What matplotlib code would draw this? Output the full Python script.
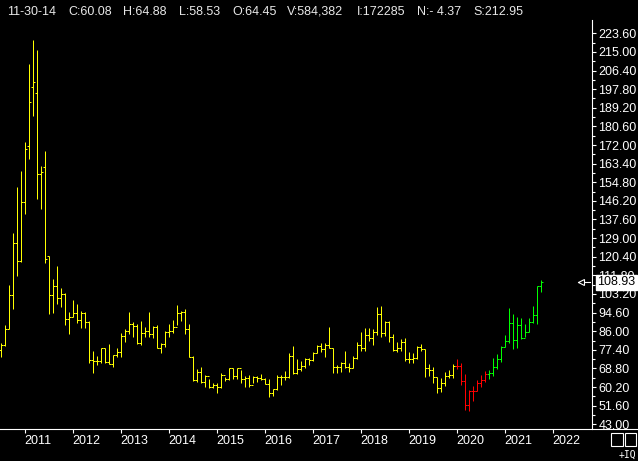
import numpy as np
import matplotlib
matplotlib.use("Agg")
import matplotlib.pyplot as plt
from matplotlib.lines import Line2D
from matplotlib.patches import Rectangle
from matplotlib.ticker import FixedLocator, FuncFormatter

# 月线 OHLC 数据
opens = [77.3, 79.6, 87.0, 102.7, 126.7, 118.4, 145.7, 171.5, 198.8, 196.0,
         158.6, 161.8, 120.7, 102.7, 106.9, 101.3, 103.2, 91.6, 92.6, 94.4,
         91.2, 94.4, 90.3, 72.7, 72.3, 72.3, 78.2, 71.8, 70.9, 75.0,
         76.4, 83.8, 86.1, 89.3, 88.4, 80.6, 85.2, 86.1, 84.7, 88.0,
         78.2, 80.1, 85.6, 86.1, 88.0, 94.4, 94.9, 87.0, 74.1, 63.5,
         67.2, 62.6, 65.3, 60.2, 61.2, 60.2, 65.8, 63.9, 69.0, 65.3,
         69.0, 63.9, 64.4, 61.2, 64.8, 64.4, 63.9, 61.6, 57.5, 59.3,
         64.8, 64.8, 64.8, 74.5, 66.7, 68.5, 70.0, 73.2, 72.7, 75.9,
         79.2, 77.8, 79.6, 78.2, 69.5, 69.5, 71.3, 69.5, 69.0, 73.6,
         79.6, 78.2, 84.3, 82.9, 85.6, 93.9, 85.2, 90.3, 83.3, 77.3,
         78.2, 81.0, 73.2, 73.2, 73.6, 78.7, 77.8, 69.0, 68.1, 64.8,
         59.8, 62.1, 65.3, 65.8, 70.0, 70.0, 63.0, 51.9, 58.4, 58.4,
         62.1, 63.5, 66.2, 66.7, 69.5, 73.2, 78.7, 81.5, 89.8, 82.0,
         88.9, 82.9, 85.6, 90.3, 93.5, 106.9]
highs = [80.6, 88.9, 107.3, 131.4, 152.6, 160.0, 173.4, 209.4, 220.5, 215.9,
         162.3, 169.2, 120.7, 110.1, 116.1, 105.9, 103.6, 94.9, 100.4, 98.6,
         95.3, 94.9, 90.7, 76.9, 74.5, 78.2, 78.2, 80.1, 75.0, 78.2,
         85.2, 87.0, 94.9, 90.3, 89.3, 90.7, 88.0, 94.9, 88.4, 88.9,
         80.6, 86.1, 89.3, 91.2, 98.1, 95.3, 96.3, 89.3, 74.5, 68.5,
         69.5, 65.8, 63.9, 62.1, 62.1, 66.7, 64.8, 69.0, 69.0, 69.0,
         68.1, 65.3, 65.8, 65.3, 65.3, 66.2, 64.4, 63.9, 59.3, 65.8,
         65.8, 67.6, 75.9, 79.2, 73.2, 72.3, 73.6, 73.6, 76.4, 79.6,
         80.6, 80.6, 88.0, 78.2, 70.4, 71.8, 76.9, 71.3, 74.5, 81.0,
         85.6, 87.5, 87.5, 87.0, 97.2, 97.6, 90.7, 90.7, 84.7, 81.0,
         82.4, 82.9, 76.4, 75.9, 79.2, 80.1, 77.8, 70.9, 69.5, 64.8,
         64.4, 67.2, 68.1, 70.9, 73.2, 71.3, 66.2, 58.8, 60.7, 63.5,
         65.8, 67.6, 68.1, 73.6, 75.5, 79.2, 84.3, 96.7, 93.9, 92.6,
         92.1, 89.3, 92.1, 97.6, 106.9, 109.6]
lows = [74.1, 79.2, 87.0, 96.3, 111.5, 117.9, 140.1, 165.5, 185.4, 147.1,
        142.5, 117.5, 93.9, 94.4, 98.6, 97.2, 88.9, 84.7, 92.6, 89.8,
        87.5, 87.5, 71.3, 66.7, 70.4, 71.3, 71.3, 70.9, 69.5, 74.1,
        74.1, 81.0, 84.7, 83.3, 80.1, 79.6, 83.3, 83.3, 82.9, 78.2,
        75.9, 78.7, 83.3, 85.2, 88.9, 90.7, 84.7, 74.1, 63.0, 62.6,
        62.1, 60.2, 59.8, 59.8, 57.5, 59.8, 63.0, 63.5, 63.9, 63.9,
        62.1, 60.2, 60.2, 62.1, 62.6, 63.5, 61.6, 55.6, 56.1, 58.8,
        61.2, 63.5, 64.4, 66.2, 66.2, 67.6, 69.0, 70.4, 72.3, 75.9,
        76.4, 74.1, 78.2, 66.7, 66.7, 67.2, 69.0, 67.2, 69.0, 73.2,
        76.9, 76.9, 81.5, 79.6, 84.3, 83.3, 83.8, 81.0, 76.9, 76.4,
        76.9, 72.3, 71.3, 71.3, 73.2, 76.9, 64.8, 65.3, 62.1, 57.5,
        57.9, 60.7, 64.4, 64.4, 68.5, 61.2, 49.6, 49.2, 53.8, 58.4,
        60.2, 62.6, 63.9, 65.3, 68.5, 71.8, 78.7, 80.6, 77.8, 78.2,
        82.4, 83.3, 85.6, 89.8, 89.3, 104.1]
closes = [79.6, 87.0, 102.7, 126.7, 118.4, 145.7, 170.2, 191.9, 201.1, 158.6,
          159.5, 119.3, 102.7, 106.9, 101.3, 103.2, 91.6, 92.6, 94.4, 91.2,
          94.4, 90.3, 72.7, 72.3, 72.3, 78.2, 71.8, 70.9, 75.0, 76.4,
          83.8, 86.1, 89.3, 88.4, 80.6, 85.2, 86.1, 84.7, 88.0, 78.2,
          80.1, 85.6, 86.1, 88.0, 94.4, 94.9, 87.0, 74.1, 63.5, 67.2,
          62.6, 65.3, 60.2, 61.2, 60.2, 65.8, 63.9, 69.0, 65.3, 69.0,
          63.9, 64.4, 61.2, 64.8, 64.4, 63.9, 61.6, 57.5, 59.3, 64.8,
          64.8, 64.8, 74.5, 66.7, 68.5, 70.0, 73.2, 72.7, 75.9, 79.2,
          77.8, 79.6, 78.2, 69.5, 69.5, 71.3, 69.5, 69.0, 73.6, 79.6,
          78.2, 84.3, 82.9, 85.6, 93.9, 85.2, 90.3, 83.3, 77.3, 78.2,
          81.0, 73.2, 73.2, 73.6, 78.7, 77.8, 69.0, 68.1, 64.8, 59.8,
          62.1, 65.3, 65.8, 70.0, 70.0, 63.0, 51.9, 58.4, 58.4, 62.1,
          63.5, 66.2, 66.7, 69.5, 73.2, 78.7, 81.5, 89.8, 82.0, 88.9,
          82.9, 85.6, 90.3, 93.5, 106.9, 108.93]
years = ['2011', '2012', '2013', '2014', '2015', '2016',
         '2017', '2018', '2019', '2020', '2021', '2022']
header = ['11-30-14', 'C:60.08', 'H:64.88', 'L:58.53', 'O:64.45',
          'V:584,382', 'I:172285', 'N:- 4.37', 'S:212.95']
last_price = 108.93

W, H = 638, 461
plt.rcParams['font.family'] = ['Liberation Sans', 'DejaVu Sans']
fig = plt.figure(figsize=(W / 100, H / 100), dpi=100, facecolor='black')

# 像素 -> 图坐标
def fx(px):
    return px / W

def fy(py):
    return 1 - py / H

ax = fig.add_axes([0, fy(429), fx(592), fy(20) - fy(429)], facecolor='black')

n = len(closes)
x = np.arange(n)
cols = ['#ffff00'] * 114 + ['#ff0000'] * 8 + ['#00ff00'] * (n - 122)

lw = 0.72  # 1 像素，对齐像素中心
ax.vlines(x, lows, highs, colors=cols, lw=lw, snap=True)
ax.hlines(opens, x - 0.45, x, colors=cols, lw=lw, snap=True)
ax.hlines(closes, x, x + 0.45, colors=cols, lw=lw, snap=True)

ax.set_xlim(-0.175, 147.8)
ax.set_ylim(40.83, 229.74)

# 右侧价格轴
for s in ['left', 'top', 'bottom']:
    ax.spines[s].set_visible(False)
ax.spines['right'].set_color('white')
ax.spines['right'].set_linewidth(0.8)
ax.yaxis.tick_right()
ax.yaxis.set_major_locator(FixedLocator([43.0 + 8.6 * k for k in range(22)]))
ax.yaxis.set_minor_locator(FixedLocator([47.3 + 8.6 * k for k in range(21)]))
ax.yaxis.set_major_formatter(FuncFormatter(lambda v, p: '%.2f' % v))
ax.tick_params(axis='y', which='major', length=3, width=0.8, color='white',
               labelcolor='white', labelsize=9, pad=1.5)
ax.tick_params(axis='y', which='minor', length=2, width=0.8, color='white')

# 年份刻度（每年 12 根月线）
ax.set_xticks([6 + 12 * k for k in range(len(years))])
ax.set_xticklabels(years)
ax.tick_params(axis='x', length=3, width=0.8, color='white', labelcolor='white',
               labelsize=9, pad=1.5)
for lab in ax.get_xticklabels():
    lab.set_ha('left')

# 底部横线
fig.add_artist(Line2D([0, 1], [fy(429), fy(429)], color='white', lw=0.8))

# 顶部信息栏
hx = [7, 68, 123, 179, 232, 287, 357, 417, 473]
for px, s in zip(hx, header):
    fig.text(fx(px), fy(12), s, color='#e8e8e8', fontsize=9, va='center', ha='left')

# 最新价标签
fig.text(fx(597), fy(282), '%.2f' % last_price, color='black', fontsize=9,
         va='center', ha='left', zorder=10,
         bbox=dict(boxstyle='square,pad=0.12', fc='white', ec='white'))
fig.add_artist(Line2D([fx(578), fx(590)], [fy(282), fy(282)], color='white', lw=0.8))
fig.add_artist(Line2D([fx(581)], [fy(282)], marker='<', ms=5, mfc='black',
                      mec='white', mew=0.8, ls='none'))

# 右下角小方框
fig.add_artist(Rectangle((fx(611), fy(446)), fx(12), fy(433) - fy(446),
                         fill=False, ec='white', lw=0.8))
fig.add_artist(Rectangle((fx(625), fy(446)), fx(11), fy(433) - fy(446),
                         fill=False, ec='white', lw=0.8))
fig.text(fx(636), fy(455), '+IQ', color='white', fontsize=7, va='center', ha='right',
         family='DejaVu Sans Mono')

fig.savefig('out.png', dpi=100, facecolor='black')
